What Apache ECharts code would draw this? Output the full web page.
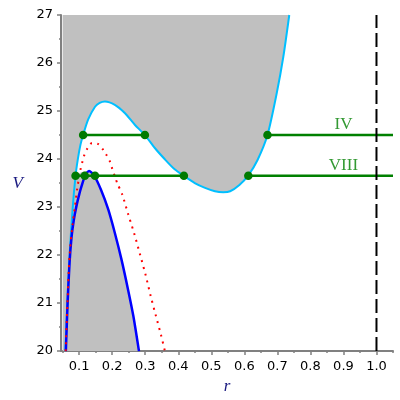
<!DOCTYPE html>
<html>
<head>
<meta charset="utf-8">
<script src="https://cdn.jsdelivr.net/npm/echarts@6/dist/echarts.min.js"></script>
<style>
    html, body { margin: 0; padding: 0; background: #fff; }
    #chart { width: 400px; height: 400px; }
</style>
</head>
<body>
<div id="chart"></div>
<script>
    // outer (cyan) curve
    var cyanR = [0.058, 0.064, 0.071, 0.080, 0.089, 0.096, 0.104, 0.112, 0.127, 0.148, 0.162, 0.178, 0.208, 0.238, 0.269, 0.299, 0.329, 0.360, 0.390, 0.417, 0.450, 0.481, 0.511, 0.536, 0.557, 0.585, 0.612, 0.640, 0.670, 0.698, 0.718, 0.736];
    var cyanV = [20.0, 21.0, 22.0, 22.95, 23.65, 24.00, 24.30, 24.50, 24.82, 25.09, 25.17, 25.20, 25.13, 24.96, 24.71, 24.50, 24.23, 23.99, 23.78, 23.65, 23.50, 23.40, 23.33, 23.31, 23.33, 23.46, 23.66, 23.98, 24.50, 25.37, 26.13, 27.0];
    // inner (blue) curve
    var blueR = [0.0597, 0.065, 0.071, 0.077, 0.084, 0.092, 0.100, 0.107, 0.117, 0.130, 0.145, 0.166, 0.188, 0.208, 0.228, 0.248, 0.264, 0.281];
    var blueV = [20.0, 21.0, 21.85, 22.38, 22.74, 23.03, 23.26, 23.43, 23.63, 23.75, 23.66, 23.36, 22.95, 22.46, 21.91, 21.28, 20.73, 20.0];
    // red dotted curve
    var redR = [0.059, 0.0645, 0.071, 0.080, 0.088, 0.094, 0.104, 0.110, 0.115, 0.124, 0.138, 0.158, 0.173, 0.183, 0.193, 0.200, 0.208, 0.215, 0.230, 0.248, 0.267, 0.284, 0.301, 0.316, 0.332, 0.348, 0.3595];
    var redV = [20.0, 21.0, 22.0, 22.65, 23.05, 23.38, 23.78, 23.95, 24.07, 24.21, 24.33, 24.31, 24.19, 24.08, 23.95, 23.80, 23.64, 23.50, 23.27, 22.86, 22.44, 22.02, 21.59, 21.16, 20.74, 20.33, 20.0];

    // energy levels
    var levelIV = 24.5;
    var levelVIII = 23.65;
    var ivSegments = [[0.112, 0.299], [0.670, 1.05]];
    var viiiSegments = [[0.089, 0.417], [0.612, 1.05]];
    var ivDots = [0.112, 0.299, 0.670];
    var viiiDots = [0.089, 0.117, 0.148, 0.417, 0.612];

    var xMin = 0.045, xMax = 1.05, yMin = 20, yMax = 27;
    var grayLeft = 0.05;
    var rWall = 1.0;
    var xLabels = [0.1, 0.2, 0.3, 0.4, 0.5, 0.6, 0.7, 0.8, 0.9, 1.0];
    var xMinor = [0.05, 0.15, 0.25, 0.35, 0.45, 0.55, 0.65, 0.75, 0.85, 0.95, 1.05];

    function zip(xs, ys) {
        return xs.map(function (x, i) { return [x, ys[i]]; });
    }
    function segData(segs, v) {
        var out = [];
        segs.forEach(function (s, i) {
            if (i > 0) out.push([null, null]);
            out.push([s[0], v], [s[1], v]);
        });
        return out;
    }

    var cyanPts = zip(cyanR, cyanV);
    var bluePts = zip(blueR, blueV);
    var redPts = zip(redR, redV);

    // lower forbidden region: cyan left branch up to the blue hump, then the blue hump down
    var blueTop = Math.max.apply(null, blueV);
    var peakIdx = blueV.indexOf(blueTop);
    var lowerEdge = [];
    for (var i = 0; i < cyanPts.length && cyanPts[i][1] <= blueTop; i++) lowerEdge.push(cyanPts[i]);
    lowerEdge = lowerEdge.concat(bluePts.slice(peakIdx));

    var gray = '#c0c0c0';
    var smoothing = 0.25;

    var chart = echarts.init(document.getElementById('chart'));
    var axisGray = '#808080';
    var tickFont = { color: '#000', fontSize: 13, fontFamily: 'DejaVu Sans' };
    var nameFont = { color: '#1a1a80', fontSize: 17, fontStyle: 'italic', fontFamily: 'Liberation Serif' };

    chart.setOption({
        animation: false,
        grid: { left: 61, right: 7, top: 15, bottom: 48 },
        xAxis: [{
            type: 'value', min: xMin, max: xMax, position: 'bottom',
            name: 'r', nameLocation: 'middle', nameGap: 24, nameTextStyle: nameFont,
            axisLine: { lineStyle: { color: axisGray, width: 2 } },
            axisTick: { customValues: xLabels, length: 4, lineStyle: { color: axisGray, width: 1.5 } },
            axisLabel: Object.assign({ customValues: xLabels, margin: 9, formatter: function (v) { return v.toFixed(1); } }, tickFont),
            splitLine: { show: false }
        }, {
            type: 'value', min: xMin, max: xMax, position: 'bottom',
            axisLine: { show: false },
            axisTick: { customValues: xMinor, length: 2, lineStyle: { color: axisGray, width: 1.5 } },
            axisLabel: { show: false },
            splitLine: { show: false }
        }],
        yAxis: {
            type: 'value', min: yMin, max: yMax, interval: 1,
            name: 'V', nameLocation: 'middle', nameGap: 38, nameRotate: 0, nameTextStyle: nameFont,
            axisLine: { show: true, lineStyle: { color: axisGray, width: 2 } },
            axisTick: { show: true, length: 4, lineStyle: { color: axisGray, width: 1.5 } },
            minorTick: { show: true, splitNumber: 2, length: 2, lineStyle: { color: axisGray, width: 1.5 } },
            axisLabel: Object.assign({ margin: 8 }, tickFont),
            splitLine: { show: false }
        },
        series: [
            {
                // thin strip left of the cyan curve
                type: 'custom', silent: true, clip: true,
                data: [[grayLeft, yMin]],
                renderItem: function (params, api) {
                    var a = api.coord([grayLeft, yMax]);
                    var b = api.coord([cyanR[0], yMin]);
                    return {
                        type: 'rect',
                        shape: { x: a[0], y: a[1], width: b[0] - a[0] + 1, height: b[1] - a[1] },
                        style: { fill: gray }
                    };
                }
            },
            {
                type: 'line', data: lowerEdge, showSymbol: false, smooth: smoothing, silent: true,
                lineStyle: { width: 0 }, areaStyle: { color: gray, opacity: 1, origin: 'start' }
            },
            {
                type: 'line', data: cyanPts, showSymbol: false, smooth: smoothing,
                lineStyle: { color: '#00bfff', width: 2 },
                areaStyle: { color: gray, opacity: 1, origin: 'end' }
            },
            {
                type: 'line', data: bluePts, showSymbol: false, smooth: smoothing,
                lineStyle: { color: '#0000ff', width: 2.5 }
            },
            {
                type: 'line', data: redPts, showSymbol: false, smooth: smoothing,
                lineStyle: { color: '#ff0000', width: 2, type: [2, 5] }
            },
            {
                type: 'line', data: segData(ivSegments, levelIV), showSymbol: false, z: 4,
                connectNulls: false, lineStyle: { color: '#008000', width: 2.5 }
            },
            {
                type: 'line', data: segData(viiiSegments, levelVIII), showSymbol: false, z: 4,
                connectNulls: false, lineStyle: { color: '#008000', width: 2.5 }
            },
            {
                type: 'scatter', symbolSize: 8.5, z: 5,
                data: ivDots.map(function (r) { return [r, levelIV]; }).concat(viiiDots.map(function (r) { return [r, levelVIII]; })),
                itemStyle: { color: '#007a00', opacity: 1 }
            },
            {
                type: 'line', data: [[rWall, yMin], [rWall, yMax]], showSymbol: false, z: 6,
                lineStyle: { color: '#000', width: 2, type: [14, 5] }
            },
            {
                type: 'scatter', symbolSize: 0, z: 6,
                data: [
                    { value: [0.9, levelIV], label: { formatter: 'IV' } },
                    { value: [0.9, levelVIII], label: { formatter: 'VIII' } }
                ],
                label: {
                    show: true, position: 'top', distance: 2,
                    color: '#008000', fontSize: 17, fontFamily: 'Liberation Serif'
                }
            }
        ]
    });
</script>
</body>
</html>
